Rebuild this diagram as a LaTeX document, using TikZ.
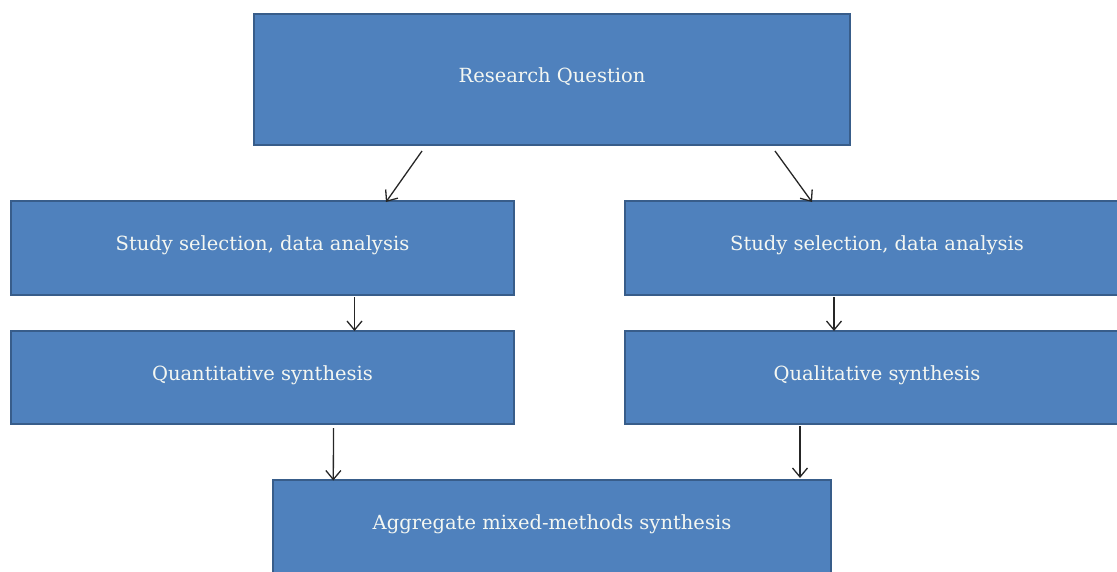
\documentclass[tikz,border=0pt]{standalone}
\usepackage{fontspec}
\setmainfont{DejaVu Serif}
\usetikzlibrary{arrows.meta}
\definecolor{boxfill}{HTML}{4F81BD}
\definecolor{boxline}{HTML}{385D8A}
\definecolor{arrowc}{HTML}{262626}
\definecolor{txt}{HTML}{F4F7F2}
\tikzset{
  box/.style={rectangle, draw=boxline, line width=2pt, fill=boxfill, text=txt,
    font=\fontsize{19.5}{22}\selectfont, inner sep=0pt, anchor=center,
    text height=15pt, text depth=10pt},
  conn/.style={draw=arrowc, line width=1.3pt, -{Straight Barb[length=9pt,width=15pt,line width=1.3pt]}}
}
\begin{document}
\begin{tikzpicture}[x=1pt,y=-1pt]
\useasboundingbox (0,0) rectangle (1117,571);
\begin{scope}
\clip (0,0) rectangle (1117,571);
\node[box, minimum width=596pt, minimum height=131pt] (rq) at (552,79.5) {Research Question};
\node[box, minimum width=503pt, minimum height=94pt] (ssl) at (262.5,248) {Study selection, data analysis};
\node[box, minimum width=504pt, minimum height=94pt] (ssr) at (877,248) {Study selection, data analysis};
\node[box, minimum width=503pt, minimum height=93pt] (ql) at (262.5,377.5) {Quantitative synthesis};
\node[box, minimum width=504pt, minimum height=93pt] (qr) at (877,377.5) {Qualitative synthesis};
\node[box, minimum width=558pt, minimum height=93pt] (agg) at (552,526.5) {Aggregate mixed-methods synthesis};
\draw[conn] ([xshift=-130pt,yshift=-5pt]rq.south) -- ([xshift=123.5pt,yshift=-2pt]ssl.north);
\draw[conn] ([xshift=223pt,yshift=-5pt]rq.south) -- ([xshift=-65pt,yshift=-2pt]ssr.north);
\draw[conn] ([xshift=92pt,yshift=-1pt]ssl.south) -- ([xshift=92pt,yshift=-1pt]ql.north);
\draw[conn] ([xshift=-43pt,yshift=-1pt]ssr.south) -- ([xshift=-43pt,yshift=-1pt]qr.north);
\draw[conn] ([xshift=71pt,yshift=-3pt]ql.south) -- ([xshift=-218.7pt,yshift=-1.5pt]agg.north);
\draw[conn] ([xshift=-77pt,yshift=-1pt]qr.south) -- ([xshift=248pt,yshift=1pt]agg.north);
\end{scope}
\end{tikzpicture}
\end{document}
